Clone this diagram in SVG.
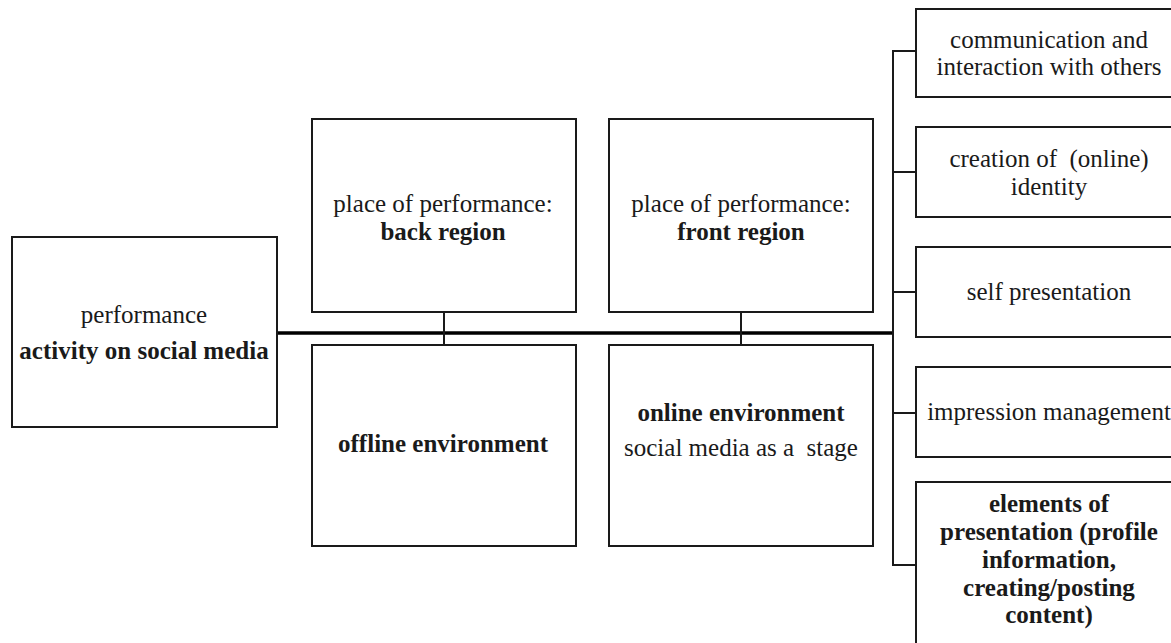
<svg xmlns="http://www.w3.org/2000/svg" width="1171" height="643" viewBox="0 0 1171 643">
<style>
.t{font-family:'Liberation Serif','Times New Roman',serif;font-size:25px;fill:#1a1a1a;text-anchor:middle}
.b{font-weight:bold}
.box{fill:#fff;stroke:#1a1a1a;stroke-width:2}
.ln{stroke:#1a1a1a;stroke-width:2;fill:none}
.main{stroke:#000;stroke-width:3.5;fill:none}
</style>
<rect width="1171" height="643" fill="#fff"/>
<g id="connectors">
<line class="main" x1="277" y1="333" x2="894" y2="333"/>
<line class="ln" x1="444" y1="312" x2="444" y2="345"/>
<line class="ln" x1="741" y1="312" x2="741" y2="345"/>
<line class="ln" x1="893" y1="50" x2="893" y2="566"/>
<line class="ln" x1="892" y1="51" x2="916" y2="51"/>
<line class="ln" x1="892" y1="172" x2="916" y2="172"/>
<line class="ln" x1="892" y1="292" x2="916" y2="292"/>
<line class="ln" x1="892" y1="413" x2="916" y2="413"/>
<line class="ln" x1="892" y1="565" x2="916" y2="565"/>
</g>
<g id="performance">
<rect class="box" x="12" y="237" width="265" height="190"/>
<text class="t" x="144" y="323">performance</text>
<text class="t b" x="144" y="359">activity on social media</text>
</g>
<g id="back-region">
<rect class="box" x="312" y="119" width="264" height="193"/>
<text class="t" x="443" y="212">place of performance:</text>
<text class="t b" x="443" y="240">back region</text>
</g>
<g id="front-region">
<rect class="box" x="609" y="119" width="264" height="193"/>
<text class="t" x="741" y="212">place of performance:</text>
<text class="t b" x="741" y="240">front region</text>
</g>
<g id="offline">
<rect class="box" x="312" y="345" width="264" height="201"/>
<text class="t b" x="443" y="452">offline environment</text>
</g>
<g id="online">
<rect class="box" x="609" y="345" width="264" height="201"/>
<text class="t b" x="741" y="421">online environment</text>
<text class="t" x="741" y="456" xml:space="preserve">social media as a  stage</text>
</g>
<g id="communication">
<rect class="box" x="916" y="9" width="270" height="88"/>
<text class="t" x="1049" y="48">communication and</text>
<text class="t" x="1049" y="75">interaction with others</text>
</g>
<g id="identity">
<rect class="box" x="916" y="127" width="270" height="90"/>
<text class="t" x="1049" y="167" xml:space="preserve">creation of  (online)</text>
<text class="t" x="1049" y="195">identity</text>
</g>
<g id="self-presentation">
<rect class="box" x="916" y="247" width="270" height="90"/>
<text class="t" x="1049" y="300">self presentation</text>
</g>
<g id="impression">
<rect class="box" x="916" y="367" width="270" height="90"/>
<text class="t" x="1049" y="420">impression management</text>
</g>
<g id="elements">
<rect class="box" x="916" y="482" width="270" height="170"/>
<text class="t b" x="1049" y="512">elements of</text>
<text class="t b" x="1049" y="540">presentation (profile</text>
<text class="t b" x="1049" y="568">information,</text>
<text class="t b" x="1049" y="596">creating/posting</text>
<text class="t b" x="1049" y="623">content)</text>
</g>
</svg>
